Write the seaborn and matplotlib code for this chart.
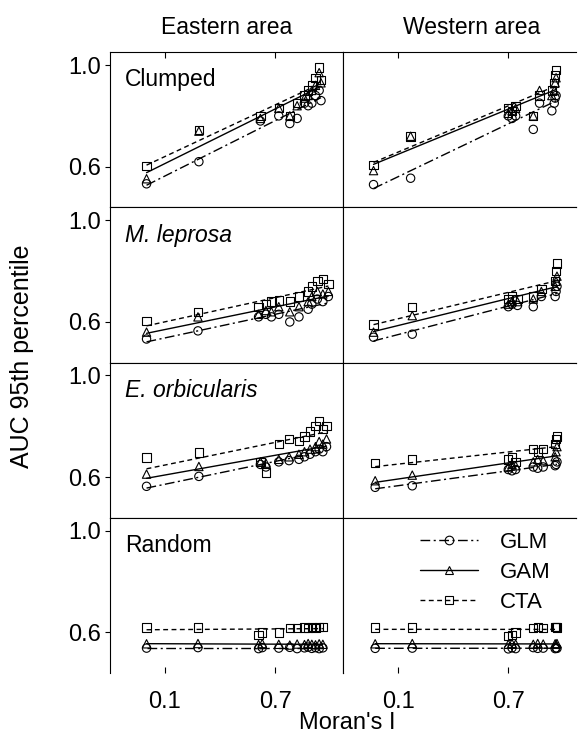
import numpy as np
import pandas as pd
import matplotlib
matplotlib.use("Agg")
import matplotlib.pyplot as plt
import seaborn as sns
from matplotlib.lines import Line2D

# ---------------- data ----------------
areas = ["Eastern area", "Western area"]
patterns = ["Clumped", "M. leprosa", "E. orbicularis", "Random"]
pattern_italic = [False, True, True, False]
models = ["GLM", "GAM", "CTA"]
y_ticks = [0.6, 1.0]
y_tick_labels = ["0.6", "1.0"]
x_ticks = [0.1, 0.7]
x_tick_labels = ["0.1", "0.7"]
x_label = "Moran's I"
y_label = "AUC 95th percentile"

# Clumped
moran_clumped_east = [0.0, 0.285, 0.62, 0.72, 0.78, 0.82, 0.86, 0.88, 0.90, 0.92, 0.94, 0.95]
glm_clumped_east = [0.533, 0.62, 0.78, 0.80, 0.77, 0.79, 0.85, 0.84, 0.85, 0.88, 0.90, 0.86]
gam_clumped_east = [0.553, 0.74, 0.79, 0.83, 0.80, 0.84, 0.87, 0.88, 0.90, 0.92, 0.97, 0.93]
cta_clumped_east = [0.604, 0.745, 0.80, 0.83, 0.80, 0.85, 0.88, 0.90, 0.92, 0.95, 0.99, 0.94]

moran_clumped_west = [-0.034, 0.168, 0.70, 0.72, 0.74, 0.836, 0.87, 0.937, 0.95, 0.955, 0.96]
glm_clumped_west = [0.53, 0.555, 0.80, 0.79, 0.80, 0.747, 0.85, 0.82, 0.85, 0.87, 0.88]
gam_clumped_west = [0.585, 0.72, 0.81, 0.82, 0.83, 0.80, 0.90, 0.88, 0.90, 0.93, 0.95]
cta_clumped_west = [0.607, 0.719, 0.83, 0.82, 0.84, 0.80, 0.88, 0.90, 0.93, 0.96, 0.98]

# M. leprosa
moran_lep_east = [0.0, 0.28, 0.61, 0.65, 0.68, 0.72, 0.78, 0.83, 0.88, 0.90, 0.93, 0.96, 0.99]
glm_lep_east = [0.533, 0.565, 0.62, 0.63, 0.62, 0.63, 0.60, 0.62, 0.65, 0.67, 0.69, 0.68, 0.70]
gam_lep_east = [0.56, 0.62, 0.63, 0.645, 0.64, 0.66, 0.64, 0.66, 0.68, 0.70, 0.72, 0.71, 0.72]
cta_lep_east = [0.605, 0.638, 0.66, 0.67, 0.68, 0.685, 0.68, 0.70, 0.72, 0.74, 0.76, 0.77, 0.75]

moran_lep_west = [-0.034, 0.177, 0.70, 0.72, 0.75, 0.836, 0.88, 0.955, 0.96, 0.965]
glm_lep_west = [0.54, 0.552, 0.66, 0.67, 0.665, 0.66, 0.70, 0.70, 0.72, 0.74]
gam_lep_west = [0.56, 0.625, 0.67, 0.68, 0.68, 0.69, 0.72, 0.74, 0.76, 0.78]
cta_lep_west = [0.59, 0.658, 0.69, 0.70, 0.69, 0.70, 0.73, 0.76, 0.80, 0.83]

# E. orbicularis
moran_orb_east = [0.0, 0.285, 0.62, 0.65, 0.72, 0.776, 0.83, 0.86, 0.89, 0.92, 0.94, 0.96, 0.98]
glm_orb_east = [0.564, 0.603, 0.65, 0.64, 0.66, 0.665, 0.67, 0.68, 0.69, 0.70, 0.71, 0.70, 0.72]
gam_orb_east = [0.612, 0.642, 0.66, 0.655, 0.67, 0.68, 0.69, 0.70, 0.71, 0.72, 0.74, 0.73, 0.75]
cta_orb_east = [0.677, 0.697, 0.66, 0.618, 0.73, 0.75, 0.742, 0.76, 0.78, 0.80, 0.82, 0.79, 0.80]

moran_orb_west = [-0.025, 0.177, 0.70, 0.72, 0.74, 0.836, 0.86, 0.89, 0.955, 0.96, 0.965]
glm_orb_west = [0.56, 0.566, 0.63, 0.625, 0.63, 0.64, 0.635, 0.64, 0.645, 0.65, 0.66]
gam_orb_west = [0.586, 0.608, 0.64, 0.65, 0.645, 0.66, 0.67, 0.665, 0.68, 0.70, 0.72]
cta_orb_west = [0.655, 0.67, 0.67, 0.68, 0.66, 0.71, 0.70, 0.71, 0.73, 0.75, 0.76]

# Random
moran_rand_east = [0.0, 0.28, 0.61, 0.63, 0.72, 0.78, 0.82, 0.86, 0.88, 0.90, 0.92, 0.94, 0.96]
glm_rand_east = [0.538, 0.540, 0.536, 0.540, 0.538, 0.541, 0.536, 0.539, 0.542, 0.537, 0.540, 0.536, 0.539]
gam_rand_east = [0.555, 0.556, 0.552, 0.556, 0.553, 0.550, 0.554, 0.552, 0.556, 0.553, 0.551, 0.555, 0.553]
cta_rand_east = [0.619, 0.619, 0.590, 0.600, 0.599, 0.618, 0.616, 0.619, 0.617, 0.620, 0.618, 0.621, 0.620]

moran_rand_west = [-0.025, 0.177, 0.70, 0.72, 0.74, 0.836, 0.86, 0.89, 0.955, 0.96, 0.965]
glm_rand_west = [0.537, 0.538, 0.535, 0.539, 0.536, 0.540, 0.537, 0.538, 0.536, 0.539, 0.537]
gam_rand_west = [0.555, 0.556, 0.553, 0.556, 0.554, 0.553, 0.556, 0.554, 0.555, 0.553, 0.556]
cta_rand_west = [0.619, 0.619, 0.585, 0.590, 0.600, 0.618, 0.620, 0.616, 0.620, 0.622, 0.619]

panel_data = {
    ("Clumped", "Eastern area"): (moran_clumped_east, glm_clumped_east, gam_clumped_east, cta_clumped_east),
    ("Clumped", "Western area"): (moran_clumped_west, glm_clumped_west, gam_clumped_west, cta_clumped_west),
    ("M. leprosa", "Eastern area"): (moran_lep_east, glm_lep_east, gam_lep_east, cta_lep_east),
    ("M. leprosa", "Western area"): (moran_lep_west, glm_lep_west, gam_lep_west, cta_lep_west),
    ("E. orbicularis", "Eastern area"): (moran_orb_east, glm_orb_east, gam_orb_east, cta_orb_east),
    ("E. orbicularis", "Western area"): (moran_orb_west, glm_orb_west, gam_orb_west, cta_orb_west),
    ("Random", "Eastern area"): (moran_rand_east, glm_rand_east, gam_rand_east, cta_rand_east),
    ("Random", "Western area"): (moran_rand_west, glm_rand_west, gam_rand_west, cta_rand_west),
}

rows = []
for (pat, area), (xs, *ys) in panel_data.items():
    for model, yv in zip(models, ys):
        for xv, v in zip(xs, yv):
            rows.append(dict(pattern=pat, area=area, model=model, moran=xv, auc=v))
df = pd.DataFrame(rows)

# ---------------- style ----------------
sns.set_style("white")
plt.rcParams["font.family"] = ["Liberation Sans", "DejaVu Sans"]
plt.rcParams["text.color"] = "black"
plt.rcParams["axes.labelcolor"] = "black"
plt.rcParams["xtick.color"] = "black"
plt.rcParams["ytick.color"] = "black"

styles = {
    "GLM": dict(marker="o", line=dict(dashes=(7, 2.5, 1.5, 2.5))),
    "GAM": dict(marker="^", line=dict(linestyle="-")),
    "CTA": dict(marker="s", line=dict(dashes=(3.5, 2.5))),
}

fig = plt.figure(figsize=(5.78, 7.47), dpi=100)
axes = fig.subplots(4, 2, sharex=True, sharey=True,
                    gridspec_kw=dict(hspace=0, wspace=0))
fig.subplots_adjust(left=0.19, right=0.997, top=0.930, bottom=0.099)

for r, pat in enumerate(patterns):
    for c, area in enumerate(areas):
        ax = axes[r, c]
        for m in models:
            sub = df[(df.pattern == pat) & (df.area == area) & (df.model == m)]
            sns.regplot(data=sub, x="moran", y="auc", ax=ax, ci=None, truncate=True,
                        marker=styles[m]["marker"], color="black",
                        scatter_kws=dict(s=36, facecolors="none", edgecolors="black",
                                         linewidths=0.8, alpha=1, zorder=3),
                        line_kws=dict(lw=1.0, color="black", zorder=2, **styles[m]["line"]))
        ax.set_xlabel("")
        ax.set_ylabel("")
        ax.set_xlim(-0.2, 1.07)
        ax.set_ylim(0.44, 1.05)
        for s in ax.spines.values():
            s.set_color("black")
            s.set_linewidth(0.8)
        if c == 1:
            ax.spines["right"].set_visible(False)
        if r == 3:
            ax.spines["bottom"].set_visible(False)
        ax.set_yticks(y_ticks)
        ax.set_yticklabels(y_tick_labels)
        ax.set_xticks(x_ticks)
        ax.set_xticklabels(x_tick_labels)
        ax.tick_params(axis="y", left=(c == 0), right=False, labelleft=(c == 0),
                       direction="out", length=3.6, width=0.8, pad=3, labelsize=17)
        ax.tick_params(axis="x", bottom=(r == 3), top=(r == 0), labelbottom=(r == 3),
                       direction="in", length=4, width=0.8, pad=13, labelsize=17)
        if c == 0:
            ax.text(0.065, 0.78, pat, transform=ax.transAxes, fontsize=16.5,
                    style="italic" if pattern_italic[r] else "normal",
                    va="baseline", ha="left")
        if r == 0:
            ax.set_title(area, fontsize=16.5, pad=13, x=0.5 if c == 0 else 0.55)

fig.text(22 / 578, 1 - 356 / 747, y_label, rotation=90, ha="center", va="center", fontsize=18)
fig.text(0.600, 1 - 723 / 747, x_label, ha="center", va="center", fontsize=17)

handles = []
for m in models:
    handles.append(Line2D([0], [0], color="black", lw=1.0, marker=styles[m]["marker"],
                          markerfacecolor="none", markeredgecolor="black",
                          markersize=6.2, markeredgewidth=0.8, **styles[m]["line"]))
axes[3, 1].legend(handles, models, loc="center", bbox_to_anchor=(0.61, 0.65),
                  frameon=False, fontsize=16, handlelength=2.6, handletextpad=1.0,
                  labelspacing=0.4, numpoints=1)

fig.savefig("out.png", dpi=100)
